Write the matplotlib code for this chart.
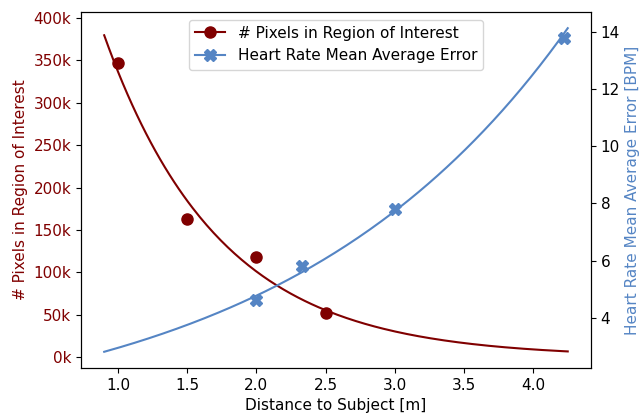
import numpy as np
import matplotlib
matplotlib.use("Agg")
import matplotlib.pyplot as plt
from matplotlib.ticker import FuncFormatter

# measured points
dist_pixels = [1.0, 1.5, 2.0, 2.5]
pixels = [347000, 163000, 118000, 52000]

dist_error = [2.0, 2.33, 3.0, 4.22]
error = [4.6, 5.8, 7.8, 13.8]

red = "#800000"
blue = "#5585c4"

plt.rcParams["font.size"] = 11

# exponential fits (log-linear)
p_pix = np.polyfit(dist_pixels, np.log(pixels), 1)
p_err = np.polyfit(dist_error, np.log(error), 1)
xs = np.linspace(0.9, 4.25, 200)

fig = plt.figure(figsize=(6.43, 4.16), dpi=100)
ax1 = fig.add_axes([0.126, 0.115, 0.793, 0.856])
ax2 = ax1.twinx()

ax1.plot(xs, np.exp(np.polyval(p_pix, xs)), color=red, lw=1.5)
ax1.plot(dist_pixels, pixels, "o", color=red, markersize=8)
ax2.plot(xs, np.exp(np.polyval(p_err, xs)), color=blue, lw=1.5)
ax2.plot(dist_error, error, "X", color=blue, markersize=8)

ax1.set_ylim(-13000, 407000)
ax2.set_ylim(2.23, 14.7)
ax1.set_yticks(np.arange(0, 400001, 50000))
ax1.yaxis.set_major_formatter(FuncFormatter(lambda v, p: "%dk" % round(v / 1000)))
ax2.set_yticks([4, 6, 8, 10, 12, 14])

ax1.set_xlabel("Distance to Subject [m]")
ax1.set_ylabel("# Pixels in Region of Interest", color=red)
ax2.set_ylabel("Heart Rate Mean Average Error [BPM]", color=blue)
ax1.tick_params(axis="y", labelcolor=red)

h1, = ax1.plot([], [], "-o", color=red, markersize=8)
h2, = ax1.plot([], [], "-X", color=blue, markersize=8)
ax2.legend([h1, h2], ["# Pixels in Region of Interest", "Heart Rate Mean Average Error"],
           loc="upper center")

plt.savefig("out.png")
